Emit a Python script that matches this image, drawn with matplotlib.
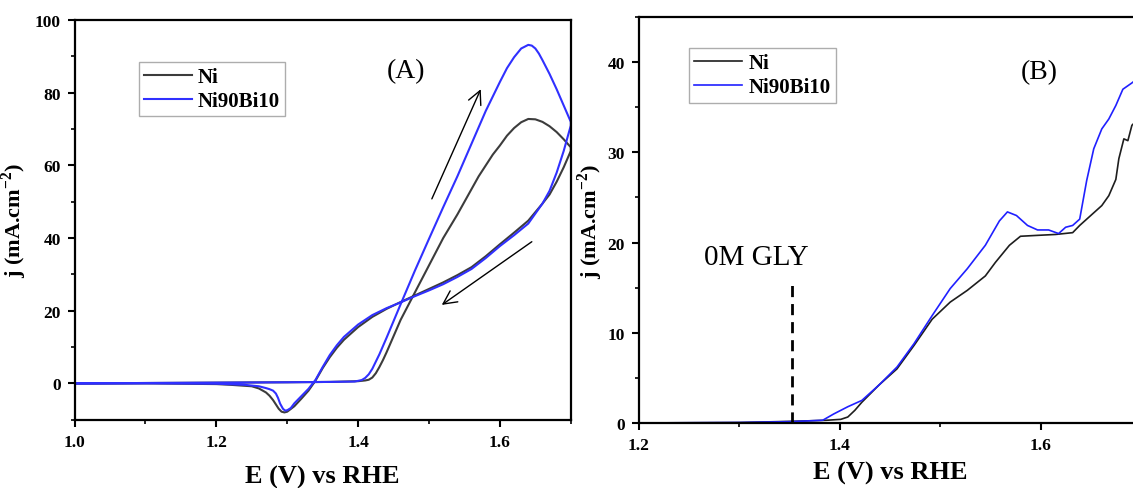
import numpy as np
import matplotlib
matplotlib.use("Agg")
import matplotlib.pyplot as plt
from matplotlib.ticker import MultipleLocator

plt.rcParams["font.family"] = ["Liberation Serif", "DejaVu Serif"]
plt.rcParams["mathtext.fontset"] = "custom"
plt.rcParams["mathtext.rm"] = "Liberation Serif"
plt.rcParams["mathtext.bf"] = "Liberation Serif:bold"

# ---- (A) cyclic voltammetry, forward and reverse scans ----
ni_fwd_E = [1.00, 1.10, 1.20, 1.30, 1.36, 1.40, 1.41, 1.415, 1.42, 1.425, 1.43, 1.435,
            1.44, 1.46, 1.48, 1.50, 1.52, 1.54, 1.55, 1.57, 1.59, 1.60, 1.61, 1.62,
            1.63, 1.64, 1.65, 1.66, 1.67, 1.68, 1.69, 1.70]
ni_fwd_j = [0.0, 0.1, 0.2, 0.3, 0.4, 0.6, 0.8, 1.0, 1.6, 2.8, 4.5, 6.4,
            8.5, 17.5, 25.0, 32.5, 40.0, 46.5, 50.0, 57.0, 63.0, 65.5, 68.2, 70.3,
            71.9, 72.8, 72.7, 72.0, 70.8, 69.2, 67.2, 65.0]
ni_rev_E = [1.70, 1.69, 1.68, 1.67, 1.66, 1.64, 1.62, 1.60, 1.58, 1.56, 1.54, 1.52,
            1.50, 1.48, 1.46, 1.44, 1.42, 1.40, 1.38, 1.37, 1.36, 1.35, 1.34, 1.33,
            1.32, 1.31, 1.30, 1.296, 1.292, 1.288, 1.284, 1.28, 1.275, 1.27, 1.26,
            1.25, 1.22, 1.20, 1.10, 1.00]
ni_rev_j = [64.0, 59.5, 55.5, 52.0, 49.5, 44.8, 41.5, 38.3, 35.0, 32.0, 29.8, 27.8,
            26.0, 24.2, 22.4, 20.5, 18.3, 15.5, 12.0, 9.8, 7.2, 4.2, 0.8, -2.0,
            -4.2, -6.3, -7.8, -8.0, -7.8, -7.0, -5.8, -4.6, -3.4, -2.5, -1.4,
            -0.8, -0.4, -0.2, 0.0, 0.0]

bi_fwd_E = [1.00, 1.10, 1.20, 1.30, 1.36, 1.395, 1.40, 1.405, 1.41, 1.415, 1.42, 1.43,
            1.44, 1.46, 1.48, 1.50, 1.52, 1.54, 1.56, 1.58, 1.60, 1.61, 1.62, 1.63,
            1.64, 1.645, 1.65, 1.655, 1.66, 1.67, 1.68, 1.69, 1.70]
bi_fwd_j = [0.0, 0.1, 0.2, 0.3, 0.4, 0.5, 0.7, 0.9, 1.5, 2.5, 4.0, 8.0,
            12.5, 21.8, 31.0, 39.8, 48.5, 57.0, 66.0, 75.0, 83.0, 86.8, 89.8, 92.2,
            93.2, 93.0, 92.2, 90.8, 89.0, 85.2, 81.0, 76.5, 72.0]
bi_rev_E = [1.70, 1.69, 1.68, 1.67, 1.66, 1.64, 1.62, 1.60, 1.58, 1.56, 1.54, 1.52,
            1.50, 1.48, 1.46, 1.44, 1.42, 1.40, 1.38, 1.37, 1.36, 1.35, 1.34, 1.33,
            1.32, 1.31, 1.305, 1.30, 1.297, 1.294, 1.29, 1.287, 1.284, 1.28, 1.275,
            1.27, 1.26, 1.24, 1.20, 1.10, 1.00]
bi_rev_j = [71.0, 64.0, 58.0, 53.0, 49.5, 44.0, 40.8, 37.8, 34.5, 31.5, 29.3, 27.3,
            25.6, 24.0, 22.3, 20.7, 18.8, 16.2, 12.8, 10.5, 7.8, 4.5, 1.0, -1.5,
            -3.5, -5.5, -6.8, -7.4, -7.5, -7.0, -5.6, -4.0, -2.8, -2.0, -1.6,
            -1.3, -0.8, -0.4, -0.1, 0.0, 0.0]

arrow_up = [(1.504, 50.8), (1.573, 81.0)]
arrow_down = [(1.645, 39.0), (1.518, 21.6)]

# ---- (B) linear sweep voltammetry ----
lsv_ni_E = [1.20, 1.30, 1.352, 1.387, 1.401, 1.408, 1.415, 1.422, 1.439, 1.457, 1.474,
            1.492, 1.510, 1.527, 1.545, 1.555, 1.569, 1.580, 1.597, 1.615, 1.632,
            1.639, 1.650, 1.661, 1.668, 1.675, 1.678, 1.683, 1.687, 1.691, 1.70]
lsv_ni_j = [0.0, 0.05, 0.18, 0.3, 0.4, 0.66, 1.4, 2.3, 4.2, 6.0, 8.6,
            11.5, 13.4, 14.7, 16.3, 17.8, 19.7, 20.7, 20.8, 20.9, 21.1,
            21.9, 23.0, 24.1, 25.2, 27.0, 29.3, 31.5, 31.3, 33.0, 34.0]
lsv_bi_E = [1.20, 1.30, 1.352, 1.383, 1.394, 1.408, 1.422, 1.439, 1.457, 1.474, 1.492,
            1.510, 1.527, 1.545, 1.559, 1.567, 1.576, 1.587, 1.597, 1.608, 1.618,
            1.625, 1.632, 1.639, 1.646, 1.653, 1.661, 1.668, 1.675, 1.682, 1.691, 1.70]
lsv_bi_j = [0.0, 0.05, 0.15, 0.3, 1.0, 1.8, 2.5, 4.2, 6.2, 8.8, 11.9,
            14.9, 17.1, 19.7, 22.4, 23.4, 23.0, 21.9, 21.4, 21.4, 21.0,
            21.7, 21.9, 22.6, 26.9, 30.4, 32.6, 33.7, 35.2, 37.0, 37.7, 38.5]

gly_E = 1.352
gly_top = 15.8

ni_color_a = "#3c3c3c"
bi_color_a = "#3030ff"
ni_color_b = "#1e1e1e"
bi_color_b = "#2020ff"

fig = plt.figure(figsize=(11.33, 4.89), dpi=100)
ax1 = fig.add_axes([0.0658, 0.1397, 0.438, 0.817])
ax2 = fig.add_axes([0.564, 0.133, 0.443, 0.830])


def style_axes(ax):
    for sp in ax.spines.values():
        sp.set_linewidth(1.6)
    ax.tick_params(which="major", direction="out", length=5, width=1.5,
                   top=False, right=False, pad=5)
    ax.tick_params(which="minor", direction="out", length=3, width=1.2,
                   top=False, right=False)
    for lab in ax.get_xticklabels() + ax.get_yticklabels():
        lab.set_fontweight("bold")
        lab.set_fontsize(12.5)


# panel A
ax1.plot(ni_fwd_E + ni_rev_E, ni_fwd_j + ni_rev_j, color=ni_color_a, lw=1.5, label="Ni")
ax1.plot(bi_fwd_E + bi_rev_E, bi_fwd_j + bi_rev_j, color=bi_color_a, lw=1.5, label="Ni90Bi10")
ax1.set_xlim(1.0, 1.7)
ax1.set_ylim(-10, 100)
ax1.set_xticks([1.0, 1.2, 1.4, 1.6])
ax1.xaxis.set_minor_locator(MultipleLocator(0.1))
ax1.set_yticks([0, 20, 40, 60, 80, 100])
ax1.yaxis.set_minor_locator(MultipleLocator(10))
style_axes(ax1)
ax1.set_xlabel("E (V) vs RHE", fontsize=19, fontweight="bold", labelpad=11)
ax1.set_ylabel(r"j (mA.cm$^{\mathbf{-2}}$)", fontsize=16, fontweight="bold", labelpad=4)
for (x0, y0), (x1, y1) in [arrow_up, arrow_down]:
    ax1.annotate("", xy=(x1, y1), xytext=(x0, y0),
                 arrowprops=dict(arrowstyle="->", color="black", lw=1.0,
                                 mutation_scale=24, shrinkA=0, shrinkB=0))
ax1.text(1.468, 86.1, "(A)", fontsize=20, ha="center", va="center")
leg1 = ax1.legend(loc="upper left", bbox_to_anchor=(0.129, 0.896), frameon=True,
                  fancybox=False, edgecolor="#999999", borderaxespad=0,
                  handlelength=2.3, handletextpad=0.3, borderpad=0.25,
                  labelspacing=0.2, prop=dict(weight="bold", size=15))
leg1.get_frame().set_linewidth(1.0)

# panel B
ax2.plot(lsv_ni_E, lsv_ni_j, color=ni_color_b, lw=1.2, label="Ni")
ax2.plot(lsv_bi_E, lsv_bi_j, color=bi_color_b, lw=1.2, label="Ni90Bi10")
ax2.plot([gly_E, gly_E], [0, gly_top], color="black", lw=2.0, ls=(0, (4, 2.5)))
ax2.text(1.317, 17.0, "0M GLY", fontsize=21, ha="center", va="bottom")
ax2.text(1.599, 39.0, "(B)", fontsize=20, ha="center", va="center")
ax2.set_xlim(1.2, 1.7)
ax2.set_ylim(0, 45)
ax2.set_xticks([1.2, 1.4, 1.6])
ax2.xaxis.set_minor_locator(MultipleLocator(0.1))
ax2.set_yticks([0, 10, 20, 30, 40])
ax2.yaxis.set_minor_locator(MultipleLocator(5))
style_axes(ax2)
ax2.set_xlabel("E (V) vs RHE", fontsize=19, fontweight="bold", labelpad=6)
ax2.set_ylabel(r"j (mA.cm$^{\mathbf{-2}}$)", fontsize=16, fontweight="bold", labelpad=2)
leg2 = ax2.legend(loc="upper left", bbox_to_anchor=(0.0996, 0.924), frameon=True,
                  fancybox=False, edgecolor="#999999", borderaxespad=0,
                  handlelength=2.3, handletextpad=0.3, borderpad=0.25,
                  labelspacing=0.2, prop=dict(weight="bold", size=15))
leg2.get_frame().set_linewidth(1.0)

fig.savefig("out.png", dpi=100)
